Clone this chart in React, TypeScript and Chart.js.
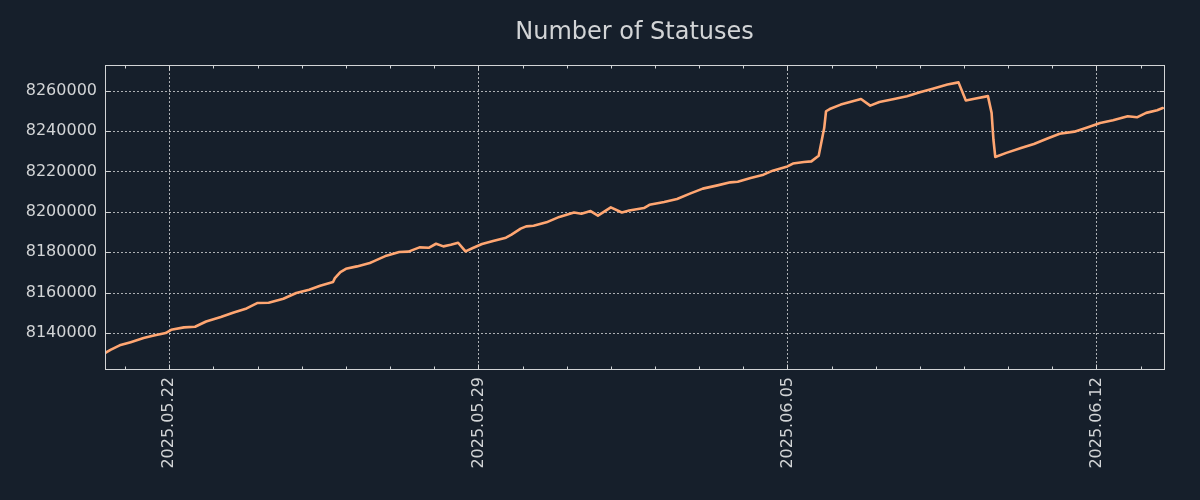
import React, { useEffect, useRef } from "react";
import { Chart, registerables } from "chart.js";

Chart.register(...registerables);

// ---- data ----
const times: string[] = [
  "2025-05-20T13:00", "2025-05-20T16:00", "2025-05-20T21:00", "2025-05-21T03:00",
  "2025-05-21T10:00", "2025-05-21T15:00", "2025-05-21T22:00", "2025-05-22T01:00",
  "2025-05-22T08:00", "2025-05-22T14:00", "2025-05-22T20:00", "2025-05-23T04:00",
  "2025-05-23T11:00", "2025-05-23T18:00", "2025-05-24T00:00", "2025-05-24T06:00",
  "2025-05-24T14:00", "2025-05-24T21:00", "2025-05-25T04:00", "2025-05-25T10:00",
  "2025-05-25T17:00", "2025-05-25T18:00", "2025-05-25T21:00", "2025-05-26T00:00",
  "2025-05-26T06:00", "2025-05-26T13:00", "2025-05-26T15:00", "2025-05-26T22:00",
  "2025-05-27T05:00", "2025-05-27T10:00", "2025-05-27T16:00", "2025-05-27T21:00",
  "2025-05-28T01:00", "2025-05-28T05:00", "2025-05-28T09:00", "2025-05-28T13:00",
  "2025-05-28T17:00", "2025-05-28T21:00", "2025-05-29T02:00", "2025-05-29T08:00",
  "2025-05-29T15:00", "2025-05-29T18:00", "2025-05-29T23:00", "2025-05-30T02:00",
  "2025-05-30T06:00", "2025-05-30T13:00", "2025-05-30T20:00", "2025-05-31T04:00",
  "2025-05-31T08:00", "2025-05-31T13:00", "2025-05-31T17:00", "2025-06-01T00:00",
  "2025-06-01T06:00", "2025-06-01T10:00", "2025-06-01T18:00", "2025-06-01T21:00",
  "2025-06-02T05:00", "2025-06-02T12:00", "2025-06-02T19:00", "2025-06-03T02:00",
  "2025-06-03T10:00", "2025-06-03T17:00", "2025-06-03T21:00", "2025-06-04T04:00",
  "2025-06-04T11:00", "2025-06-04T16:00", "2025-06-05T00:00", "2025-06-05T03:00",
  "2025-06-05T09:00", "2025-06-05T13:00", "2025-06-05T17:00", "2025-06-05T20:00",
  "2025-06-05T21:00", "2025-06-05T23:00", "2025-06-06T05:00", "2025-06-06T10:00",
  "2025-06-06T16:00", "2025-06-06T21:00", "2025-06-07T02:00", "2025-06-07T10:00",
  "2025-06-07T17:00", "2025-06-08T00:00", "2025-06-08T07:00", "2025-06-08T15:00",
  "2025-06-08T21:00", "2025-06-09T01:00", "2025-06-09T05:00", "2025-06-09T13:00",
  "2025-06-09T15:00", "2025-06-09T16:00", "2025-06-09T17:00", "2025-06-09T23:00",
  "2025-06-10T07:00", "2025-06-10T14:00", "2025-06-10T21:00", "2025-06-11T04:00",
  "2025-06-11T12:00", "2025-06-11T19:00", "2025-06-12T02:00", "2025-06-12T09:00",
  "2025-06-12T17:00", "2025-06-12T22:00", "2025-06-13T03:00", "2025-06-13T09:00",
  "2025-06-13T12:00",
];

const statuses: number[] = [
  8130100, 8131700, 8133900, 8135500,
  8137500, 8138700, 8140000, 8141600,
  8142800, 8143100, 8145700, 8147900,
  8150200, 8152200, 8154900, 8155000,
  8157000, 8159800, 8161400, 8163400,
  8165300, 8167200, 8170200, 8171800,
  8173000, 8174700, 8175500, 8178300,
  8180100, 8180300, 8182400, 8182200,
  8184200, 8182900, 8183700, 8184700,
  8180400, 8182100, 8184100, 8185600,
  8187200, 8188700, 8191700, 8192800,
  8193100, 8194800, 8197500, 8199700,
  8199100, 8200400, 8198100, 8202200,
  8199700, 8200700, 8201900, 8203500,
  8204900, 8206400, 8209000, 8211500,
  8213100, 8214600, 8214900, 8216800,
  8218400, 8220400, 8222500, 8223900,
  8224700, 8225000, 8227800, 8241500,
  8249800, 8250900, 8253100, 8254400,
  8255900, 8252600, 8254400, 8255900,
  8257200, 8259200, 8261000, 8263000,
  8264100, 8255100, 8255900, 8257300,
  8249000, 8235700, 8227200, 8229200,
  8231600, 8233600, 8236200, 8238700,
  8239700, 8241800, 8244000, 8245300,
  8247300, 8246800, 8249000, 8250300,
  8251400,
];

const yTicks: number[] = [8140000, 8160000, 8180000, 8200000, 8220000, 8240000, 8260000];
const xMajorDates: string[] = ["2025-05-22T00:00", "2025-05-29T00:00", "2025-06-05T00:00", "2025-06-12T00:00"];
const xMajorLabels: string[] = ["2025.05.22", "2025.05.29", "2025.06.05", "2025.06.12"];
const xRange: string[] = ["2025-05-20T13:02", "2025-06-13T12:43"];
const yRange: number[] = [8122200, 8272700];

const TITLE = "Number of Statuses";

// ---- helpers ----
const ORIGIN = Date.UTC(2025, 4, 20);
const toDay = (s: string) => (new Date(s + ":00Z").getTime() - ORIGIN) / 86400000;

const BG = "#161f2b";
const FG = "#d2d4d6";
const GRID = "rgba(200,202,205,0.85)";
const LINE = "#ffa672";
const FONT = "'DejaVu Sans', sans-serif";

export default function App() {
  const ref = useRef<HTMLCanvasElement | null>(null);

  useEffect(() => {
    document.body.style.margin = "0";
    document.body.style.background = BG;
    const canvas = ref.current;
    if (!canvas) return;

    const majorDays = xMajorDates.map(toDay);
    const xMin = toDay(xRange[0]);
    const xMax = toDay(xRange[1]);

    const framePlugin = {
      id: "frame",
      beforeDraw(chart: any) {
        const { ctx, width, height } = chart;
        ctx.save();
        ctx.fillStyle = BG;
        ctx.fillRect(0, 0, width, height);
        ctx.fillStyle = FG;
        ctx.font = `24px ${FONT}`;
        ctx.textAlign = "center";
        ctx.textBaseline = "alphabetic";
        const ca = chart.chartArea;
        ctx.fillText(TITLE, (ca.left + ca.right) / 2, 39);
        ctx.restore();
      },
      beforeDatasetsDraw(chart: any) {
        const { ctx, chartArea: ca, scales } = chart;
        const xs = scales.x;
        const ys = scales.y;
        ctx.save();
        ctx.strokeStyle = GRID;
        ctx.lineWidth = 1;
        ctx.setLineDash([2, 2]);
        for (const d of majorDays) {
          const px = Math.round(xs.getPixelForValue(d)) + 0.5;
          ctx.beginPath();
          ctx.moveTo(px, ca.top);
          ctx.lineTo(px, ca.bottom);
          ctx.stroke();
        }
        for (const v of yTicks) {
          const py = Math.round(ys.getPixelForValue(v)) + 0.5;
          ctx.beginPath();
          ctx.moveTo(ca.left, py);
          ctx.lineTo(ca.right, py);
          ctx.stroke();
        }
        ctx.restore();
      },
      afterDatasetsDraw(chart: any) {
        const { ctx, chartArea: ca, scales } = chart;
        const xs = scales.x;
        const ys = scales.y;
        const L = Math.round(ca.left) + 0.5;
        const R = Math.round(ca.right) + 0.5;
        const T = Math.round(ca.top) + 0.5;
        const B = Math.round(ca.bottom) + 0.5;
        ctx.save();
        ctx.strokeStyle = FG;
        ctx.lineWidth = 1;
        ctx.setLineDash([]);
        // day ticks (inward), major longer
        for (let d = Math.ceil(xMin); d <= Math.floor(xMax); d++) {
          const isMajor = majorDays.some((m) => Math.abs(m - d) < 1e-6);
          const len = isMajor ? 5 : 3;
          const px = Math.round(xs.getPixelForValue(d)) + 0.5;
          ctx.beginPath();
          ctx.moveTo(px, B);
          ctx.lineTo(px, B - len);
          ctx.moveTo(px, T);
          ctx.lineTo(px, T + len);
          ctx.stroke();
        }
        for (const v of yTicks) {
          const py = Math.round(ys.getPixelForValue(v)) + 0.5;
          ctx.beginPath();
          ctx.moveTo(L, py);
          ctx.lineTo(L + 5, py);
          ctx.moveTo(R, py);
          ctx.lineTo(R - 5, py);
          ctx.stroke();
        }
        ctx.strokeRect(L, T, R - L, B - T);
        ctx.restore();
      },
    };

    const data = times.map((t, i) => ({ x: toDay(t), y: statuses[i] }));

    const chart = new Chart(canvas, {
      type: "line",
      data: {
        datasets: [
          {
            label: TITLE,
            data,
            borderColor: LINE,
            backgroundColor: LINE,
            borderWidth: 2.6,
            pointRadius: 0,
            tension: 0,
            fill: false,
            borderJoinStyle: "round",
            borderCapStyle: "round",
          } as any,
        ],
      },
      options: {
        animation: false,
        responsive: false,
        devicePixelRatio: 1,
        layout: { padding: { left: 0, top: 65, right: 36, bottom: 0 } },
        plugins: {
          legend: { display: false },
          title: { display: false },
          tooltip: { enabled: false },
        },
        scales: {
          x: {
            type: "linear",
            min: xMin,
            max: xMax,
            grid: { display: false, drawTicks: false, tickLength: 0 },
            border: { display: false },
            afterBuildTicks: (s: any) => {
              s.ticks = majorDays.map((v) => ({ value: v }));
            },
            afterFit: (s: any) => {
              s.height = 131;
            },
            ticks: {
              autoSkip: false,
              minRotation: 90,
              maxRotation: 90,
              padding: 8,
              color: FG,
              font: { family: FONT, size: 16 },
              callback: (_v: any, i: number) => xMajorLabels[i],
            },
          },
          y: {
            type: "linear",
            min: yRange[0],
            max: yRange[1],
            grid: { display: false, drawTicks: false, tickLength: 0 },
            border: { display: false },
            afterBuildTicks: (s: any) => {
              s.ticks = yTicks.map((v) => ({ value: v }));
            },
            afterFit: (s: any) => {
              s.width = 105;
            },
            ticks: {
              autoSkip: false,
              padding: 8,
              color: FG,
              font: { family: FONT, size: 16 },
              callback: (v: any) => String(v),
            },
          },
        },
      },
      plugins: [framePlugin],
    });

    return () => chart.destroy();
  }, []);

  return (
    <div style={{ width: 1200, height: 500, background: BG }}>
      <canvas ref={ref} width={1200} height={500} style={{ display: "block" }} />
    </div>
  );
}
